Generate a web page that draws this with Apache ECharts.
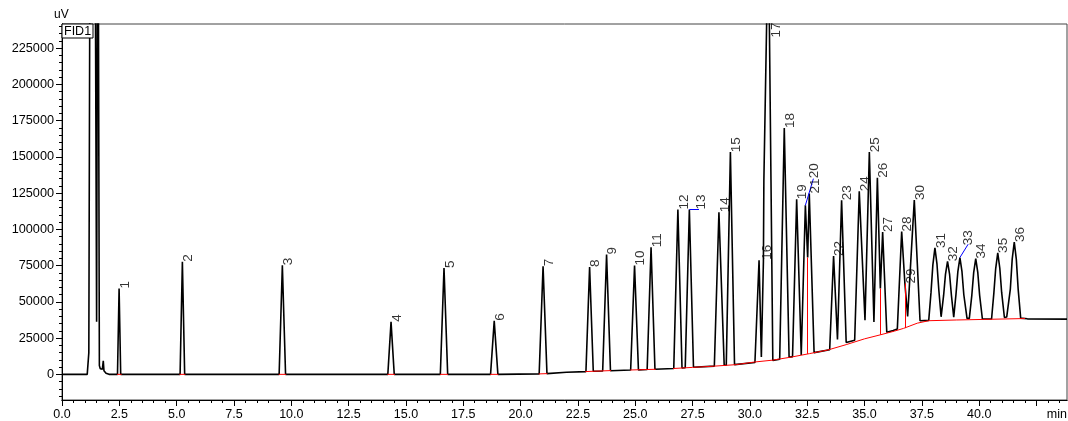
<!DOCTYPE html>
<html><head><meta charset="utf-8">
<script src="https://cdn.jsdelivr.net/npm/echarts@6/dist/echarts.min.js"></script>
<style>html,body{margin:0;padding:0;background:#fff}#c{width:1068px;height:421px}</style>
</head><body><div id="c"></div>
<script>
// ---- axis ranges & ticks ----
const X_MIN = 0, X_MAX = 43.83;
const Y_MIN = -17700, Y_MAX = 241700;
const xMajorTicks = [0,2.5,5,7.5,10,12.5,15,17.5,20,22.5,25,27.5,30,32.5,35,37.5,40,42.5];
const xLastLabel = 40;
const yMajorTicks = [0,25000,50000,75000,100000,125000,150000,175000,200000,225000];
const xMinorTicks = [];
for (let v = 0.5; v < X_MAX; v += 0.5) { if (Math.abs(v / 2.5 - Math.round(v / 2.5)) > 1e-6) xMinorTicks.push(+v.toFixed(1)); }
const yMinorTicks = [];
for (let v = -15000; v <= 240000; v += 5000) { if (v % 25000 !== 0) yMinorTicks.push(v); }

// ---- detector signal (time min, uV) ----
const signal = [
[0,0],[1.10,0],[1.17,15000],[1.21,250000],[1.33,2000000],[1.46,250000],[1.51,36200],[1.54,250000],[1.56,500000],[1.59,250000],[1.63,6000],[1.67,3800],[1.76,3500],[1.80,9400],[1.83,2500],[1.92,800],[2.05,0],
[2.42,0],[2.49,59200],[2.56,0],
[5.15,0],[5.25,77600],[5.35,0],
[9.47,0],[9.61,75300],[9.75,0],
[14.21,0],[14.35,36200],[14.49,0],
[16.50,0],[16.66,73400],[16.82,0],
[18.69,0],[18.85,36900],[19.01,0],
[20.81,300],[20.98,74600],[21.15,500],
[22.0,1400],
[22.85,1900],[23.01,74100],[23.17,2100],
[23.58,2300],[23.75,82700],[23.92,2500],
[24.80,3000],[24.97,75100],[25.14,3100],
[25.52,3300],[25.69,87700],[25.86,3500],
[26.68,4000],[26.86,113700],[27.04,4400],
[27.18,4600],[27.36,113700],[27.54,4900],
[28.45,5700],[28.65,111800],[28.88,6300],
[28.97,6300],[29.15,153300],[29.33,6700],
[30.22,8200],[30.40,78700],[30.50,12000],[30.59,78000],[30.61,134000],[30.73,241700],[30.79,3000000],[30.85,241700],[30.92,134000],[31.00,9500],
[31.30,10400],[31.50,169900],[31.71,11800],
[31.86,12200],[32.04,120800],[32.24,13300],
[32.42,116600],[32.52,80600],[32.59,124700],[32.80,15000],
[33.48,17000],[33.65,81700],[33.82,24000],
[34.00,120100],[34.20,22000],
[34.57,23500],[34.77,126300],[35.02,37400],
[35.21,153300],[35.41,36200],
[35.56,135700],[35.69,59200],[35.79,98200],[35.97,29000],
[36.25,30200],
[36.43,31200],[36.62,98500],[36.76,62700],[36.88,40000],
[37.17,120300],[37.42,37000],
[37.80,37200],[37.90,56700],[37.98,75500],[38.07,87200],[38.16,76000],[38.24,58200],[38.34,39700],
[38.45,54600],[38.53,69000],[38.62,78000],[38.71,68900],[38.79,54400],[38.89,39500],
[38.99,55500],[39.07,70900],[39.16,80600],[39.25,70800],[39.33,54900],[39.47,38600],
[39.57,38600],[39.68,54700],[39.76,70200],[39.85,79900],[39.94,70100],[40.02,54500],[40.14,38200],
[40.54,38200],[40.64,56000],[40.72,73000],[40.81,83800],[40.90,73200],[40.98,56500],[41.10,39200],
[41.20,39500],[41.27,39600],[41.36,59000],[41.44,79500],[41.53,91300],[41.62,79300],[41.70,58800],[41.81,38800],
[42.10,38300],[43.83,38100]
];

// ---- integration baseline (red) ----
const baselineSegments = [
[[2.40,0],[2.60,0]],
[[5.12,0],[5.38,0]],
[[9.45,0],[9.78,0]],
[[14.19,0],[14.52,0]],
[[16.48,0],[16.84,0]],
[[18.67,0],[19.03,0]],
[[20.79,300],[21.17,500]],
[[22.82,1900],[23.95,2600]],
[[24.78,3000],[25.90,3500]],
[[26.65,4000],[27.5,4800],[28.4,5600],[29.4,6700],[30.2,8500],[31.0,9800],[31.8,11900],[32.6,14300],[33.4,16800],[34.2,20500],[35.0,24500],[35.7,27300],[36.3,29800],[36.7,31700],[37.3,35300],[37.8,37000],[39.0,37500],[40.2,37900],[42.0,38500]]
];
const dropLines = [
[[32.52,14100],[32.52,80600]],
[[35.69,27300],[35.69,59200]],
[[36.76,31900],[36.76,62700]]
];
// ---- label leader lines (blue) ----
const leaderLines = [
[[27.36,113700],[27.78,113700]],
[[32.42,116600],[32.77,135000]],
[[39.16,80600],[39.52,89800]]
];

// ---- peak labels ----
const peakNames = ['1','2','3','4','5','6','7','8','9','10','11','12','13','14','15','16','17','18','19','20','21','22','23','24','25','26','27','28','29','30','31','32','33','34','35','36'];
const labelTimes = [2.49,5.25,9.61,14.35,16.66,18.85,20.98,23.01,23.75,24.97,25.69,26.86,27.60,28.65,29.15,30.48,30.88,31.50,32.04,32.53,32.59,33.65,34.00,34.77,35.21,35.56,35.79,36.62,36.76,37.17,38.07,38.62,39.25,39.85,40.81,41.53];
const labelValues = [59200,77600,75300,36200,73400,36900,74600,74100,82700,75100,87700,113700,113700,111800,153300,79000,232400,169900,120800,135200,124700,81700,120100,126300,153300,135700,98200,98500,62700,120300,87200,78000,89100,79900,83800,91300];

const FONT = 'Liberation Sans, Arial, sans-serif';
const chart = echarts.init(document.getElementById('c'), null, {renderer: 'canvas'});
const labelData = peakNames.map((n, i) => ({name: n, value: [labelTimes[i], labelValues[i]]}));
const black = {color: '#000', width: 1};

chart.setOption({
  animation: false,
  backgroundColor: '#fff',
  grid: {left: 62, right: 1, top: 24, bottom: 21, show: true, borderColor: '#444', borderWidth: 1, containLabel: false, outerBoundsMode: 'none'},
  xAxis: [
    {type: 'value', min: X_MIN, max: X_MAX, interval: 2.5, position: 'bottom',
     axisLine: {show: true, onZero: false, lineStyle: black},
     axisTick: {show: true, customValues: xMajorTicks, length: 6, lineStyle: black},
     axisLabel: {show: true, showMaxLabel: true, formatter: v => (v <= xLastLabel + 1e-6 ? v.toFixed(1) : ''), color: '#000', fontSize: 12.5, fontFamily: FONT, margin: 8},
     splitLine: {show: false}},
    {type: 'value', min: X_MIN, max: X_MAX, interval: 2.5, position: 'bottom',
     axisLine: {show: true, onZero: false, lineStyle: black},
     axisTick: {show: true, customValues: xMinorTicks, length: 3, lineStyle: black},
     axisLabel: {show: true, formatter: () => '', fontSize: 1}, splitLine: {show: false}}
  ],
  yAxis: [
    {type: 'value', min: Y_MIN, max: Y_MAX, minInterval: 25000, maxInterval: 25000, position: 'left',
     axisLine: {show: true, onZero: false, lineStyle: black},
     axisTick: {show: true, customValues: yMajorTicks, length: 6, lineStyle: black},
     axisLabel: {show: true, showMinLabel: false, showMaxLabel: false, formatter: v => String(v), color: '#000', fontSize: 12.7, fontFamily: FONT, margin: 8},
     splitLine: {show: false}},
    {type: 'value', min: Y_MIN, max: Y_MAX, minInterval: 25000, maxInterval: 25000, position: 'left',
     axisLine: {show: true, onZero: false, lineStyle: black},
     axisTick: {show: true, customValues: yMinorTicks, length: 3, lineStyle: black},
     axisLabel: {show: true, formatter: () => '', fontSize: 1}, splitLine: {show: false}}
  ],
  series: [
    {type: 'line', name: 'FID1', data: signal, xAxisIndex: 0, yAxisIndex: 0, showSymbol: false, symbol: 'none', clip: true,
     lineStyle: {color: '#000', width: 1.6}, z: 2},
    {type: 'lines', coordinateSystem: 'cartesian2d', polyline: true, xAxisIndex: 0, yAxisIndex: 0, clip: true,
     data: baselineSegments.map(c => ({coords: c})), lineStyle: {color: '#ff0000', width: 1, opacity: 1}, z: 3},
    {type: 'lines', coordinateSystem: 'cartesian2d', polyline: false, xAxisIndex: 0, yAxisIndex: 0,
     data: dropLines.map(c => ({coords: c})), lineStyle: {color: '#ff0000', width: 1, opacity: 1}, z: 3},
    {type: 'lines', coordinateSystem: 'cartesian2d', polyline: false, xAxisIndex: 0, yAxisIndex: 0,
     data: leaderLines.map(c => ({coords: c})), lineStyle: {color: '#0000ff', width: 1, opacity: 1}, z: 3},
    {type: 'scatter', data: labelData, xAxisIndex: 0, yAxisIndex: 0, symbolSize: 0, silent: true, z: 4,
     label: {show: true, formatter: '{b}', position: 'right', distance: 6, rotate: 90, align: 'left', verticalAlign: 'middle',
             color: '#000', fontSize: 13.5, fontFamily: FONT}}
  ],
  graphic: [
    {type: 'text', left: 54, top: 9, z: 10, style: {text: 'uV', fill: '#000', font: '12px ' + FONT}},
    {type: 'rect', z: 10, shape: {x: 62, y: 24, width: 31, height: 14}, style: {fill: '#fff', stroke: '#000', lineWidth: 1}},
    {type: 'text', z: 11, x: 64, y: 31.5, style: {text: 'FID1', fill: '#000', font: '12.5px ' + FONT, verticalAlign: 'middle'}},
    {type: 'text', z: 10, x: 1067, y: 415, style: {text: 'min', fill: '#000', font: '12.5px ' + FONT, align: 'right', verticalAlign: 'middle'}}
  ]
});
</script>
</body></html>
